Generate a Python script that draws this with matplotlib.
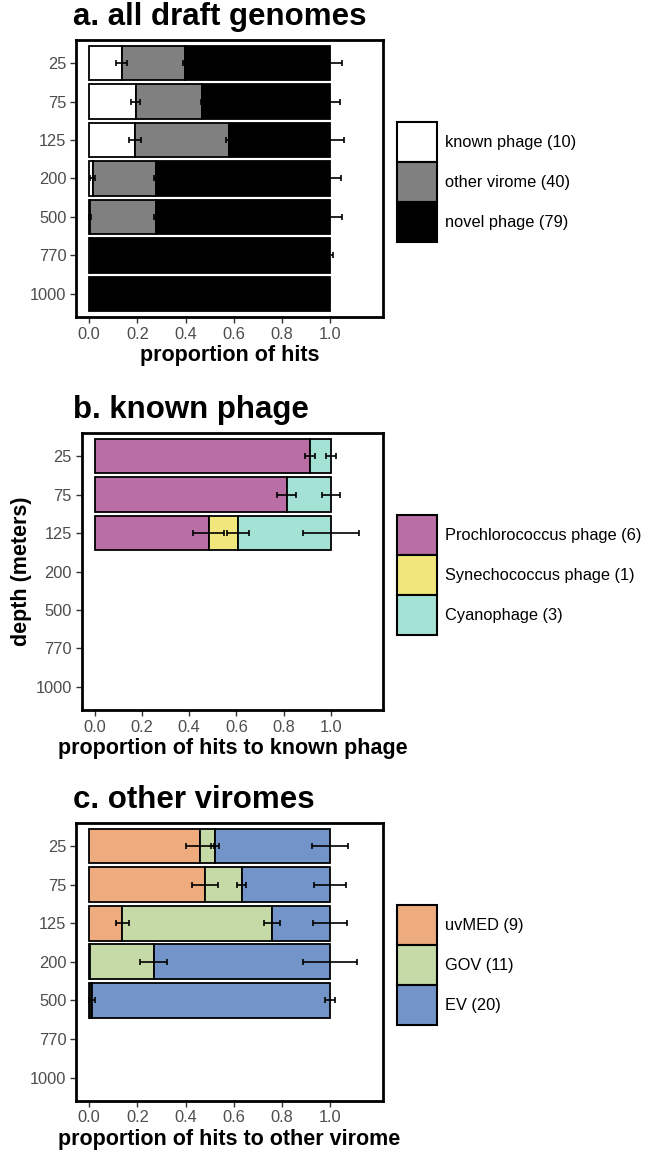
import numpy as np
import matplotlib
matplotlib.use("Agg")
import matplotlib.pyplot as plt
from matplotlib.patches import Patch

plt.rcParams['font.family'] = ['Liberation Sans', 'DejaVu Sans']

depths = ["25", "75", "125", "200", "500", "770", "1000"]

# a. all draft genomes (proportions per depth, stacked)
a_names = ["known phage (10)", "other virome (40)", "novel phage (79)"]
a_colors = ["#FFFFFF", "#808080", "#000000"]
a_known = [0.134, 0.193, 0.190, 0.014, 0.003, 0.0, 0.0]
a_other = [0.262, 0.276, 0.389, 0.265, 0.276, 0.008, 0.0]
a_novel = [0.604, 0.531, 0.421, 0.721, 0.721, 0.992, 1.0]
a_err_known = [0.021, 0.019, 0.025, 0.010, 0.003, 0.0, 0.0]
a_err_other = [0.008, 0.006, 0.010, 0.010, 0.010, 0.002, 0.0]
a_err_novel = [0.048, 0.041, 0.058, 0.045, 0.048, 0.014, 0.0]

# b. known phage (only first three depths)
b_names = ["Prochlorococcus phage (6)", "Synechococcus phage (1)", "Cyanophage (3)"]
b_colors = ["#B96FA5", "#F0E67C", "#A5E2D6"]
b_pro = [0.911, 0.812, 0.482, 0, 0, 0, 0]
b_syn = [0.0, 0.0, 0.123, 0, 0, 0, 0]
b_cyano = [0.089, 0.188, 0.395, 0, 0, 0, 0]
b_err_pro = [0.022, 0.039, 0.064, 0, 0, 0, 0]
b_err_syn = [0.0, 0.0, 0.047, 0, 0, 0, 0]
b_err_cyano = [0.021, 0.039, 0.118, 0, 0, 0, 0]

# c. other viromes
c_names = ["uvMED (9)", "GOV (11)", "EV (20)"]
c_colors = ["#EDAB7E", "#C5DAA7", "#7294C8"]
c_uvmed = [0.461, 0.481, 0.138, 0.003, 0.005, 0, 0]
c_gov = [0.062, 0.152, 0.620, 0.264, 0.007, 0, 0]
c_ev = [0.477, 0.367, 0.242, 0.733, 0.988, 0, 0]
c_err_uvmed = [0.058, 0.053, 0.026, 0.0, 0.0, 0, 0]
c_err_gov = [0.016, 0.018, 0.033, 0.058, 0.012, 0, 0]
c_err_ev = [0.076, 0.066, 0.072, 0.113, 0.020, 0, 0]

fig = plt.figure(figsize=(6.47, 11.54), dpi=100)
W, H = 647.0, 1154.0


def panel(box, title, xlabel, series, errs, colors, names, legend_top, ylabel=None):
    l, t, r, b = box
    ax = fig.add_axes([l / W, 1 - b / H, (r - l) / W, (b - t) / H])
    y = np.arange(len(depths))
    left = np.zeros(len(depths))
    for vals, err, col in zip(series, errs, colors):
        vals = np.array(vals, dtype=float)
        mask = vals > 0
        ax.barh(y[mask], vals[mask], left=left[mask], height=0.9, color=col,
                edgecolor="black", linewidth=1.3, zorder=2)
        left = left + vals
        err = np.array(err, dtype=float)
        em = err > 0
        ax.errorbar(left[em], y[em], xerr=err[em], fmt="none", ecolor="black",
                    elinewidth=1.2, capsize=2, capthick=1.2, zorder=3)
    ax.set_ylim(len(depths) - 0.4, -0.6)
    ax.set_xlim(-0.055, 1.22)
    ax.set_yticks(y)
    ax.set_yticklabels(depths)
    ax.set_xticks([0, 0.2, 0.4, 0.6, 0.8, 1.0])
    ax.set_xticklabels(["0.0", "0.2", "0.4", "0.6", "0.8", "1.0"])
    ax.tick_params(labelsize=11.8, labelcolor="#4D4D4D", color="#333333",
                   length=4, width=1, pad=3)
    for s in ax.spines.values():
        s.set_linewidth(2)
        s.set_color("black")
    fig.text((l + r) / 2 / W, 1 - (b + 44) / H, xlabel, fontsize=15.5,
             fontweight="bold", ha="center", va="baseline")
    if ylabel:
        fig.text(27 / W, 1 - (t + b) / 2 / H, ylabel, fontsize=15.5, fontweight="bold",
                 rotation=90, ha="center", va="baseline", rotation_mode="anchor")
    fig.text(73 / W, 1 - (t - 14.5) / H, title, fontsize=22.5, fontweight="bold",
             va="baseline", ha="left")
    handles = [Patch(facecolor=c, edgecolor="black", linewidth=1.5) for c in colors]
    fig.legend(handles, names, loc="upper left",
               bbox_to_anchor=(397 / W, 1 - legend_top / H), frameon=False,
               fontsize=11.8, handlelength=2.44, handleheight=3.38,
               labelspacing=0, handletextpad=0.5, borderpad=0, borderaxespad=0)
    return ax


panel((76, 40, 383, 317), "a. all draft genomes", "proportion of hits",
      [a_known, a_other, a_novel], [a_err_known, a_err_other, a_err_novel],
      a_colors, a_names, 122)
panel((81.7, 433, 383, 710), "b. known phage", "proportion of hits to known phage",
      [b_pro, b_syn, b_cyano], [b_err_pro, b_err_syn, b_err_cyano],
      b_colors, b_names, 515, ylabel="depth (meters)")
panel((76, 823, 383, 1100.7), "c. other viromes", "proportion of hits to other virome",
      [c_uvmed, c_gov, c_ev], [c_err_uvmed, c_err_gov, c_err_ev],
      c_colors, c_names, 905)

fig.savefig("out.png", dpi=100)
